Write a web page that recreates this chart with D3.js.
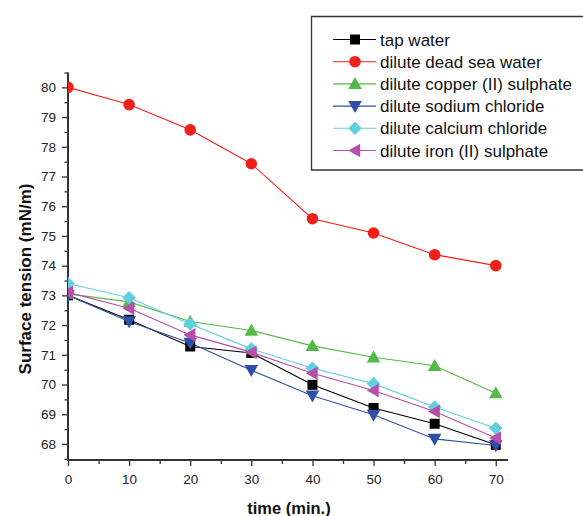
<!DOCTYPE html>
<html>
<head>
<meta charset="utf-8">
<script src="https://cdn.jsdelivr.net/npm/d3@7/dist/d3.min.js"></script>
<style>
  html, body { margin: 0; padding: 0; background: #fff; }
  svg { display: block; font-family: "Liberation Sans", Arial, sans-serif; }
</style>
</head>
<body>
<svg id="chart" width="583" height="516"></svg>
<script>
// Surface tension over time for several dilute solutions
const times = [0, 10, 20, 30, 40, 50, 60, 70];
const tapWater        = [73.0, 72.18, 71.28, 71.06, 69.99, 69.21, 68.68, 67.97];
const deadSeaWater    = [80.0, 79.42, 78.57, 77.43, 75.58, 75.10, 74.37, 74.00];
const copperSulphate  = [73.05, 72.78, 72.12, 71.82, 71.30, 70.92, 70.63, 69.71];
const sodiumChloride  = [73.0, 72.12, 71.40, 70.48, 69.62, 68.98, 68.17, 67.95];
const calciumChloride = [73.4, 72.92, 72.04, 71.20, 70.55, 70.03, 69.24, 68.53];
const ironSulphate    = [73.1, 72.57, 71.67, 71.09, 70.38, 69.80, 69.09, 68.20];
const seriesNames = ["tap water", "dilute dead sea water", "dilute copper (II) sulphate",
                     "dilute sodium chloride", "dilute calcium chloride", "dilute iron (II) sulphate"];
const xTicks = [0, 10, 20, 30, 40, 50, 60, 70];
const yTicks = [68, 69, 70, 71, 72, 73, 74, 75, 76, 77, 78, 79, 80];

const seriesValues = [tapWater, deadSeaWater, copperSulphate, sodiumChloride, calciumChloride, ironSulphate];
const colors = ["#000000", "#f2201a", "#55b947", "#3050a8", "#62cfe0", "#b64fa8"];
const shapes = ["square", "circle", "triUp", "triDown", "diamond", "triLeft"];

const svg = d3.select("#chart");
const plotLeft = 68, plotRight = 508, plotTop = 72.5, plotBottom = 460;

const x = d3.scaleLinear().domain([0, 72]).range([plotLeft, plotRight]);
const y = d3.scaleLinear().domain([67.46, 80.5]).range([plotBottom, plotTop]);

svg.append("defs").append("clipPath").attr("id", "plotClip")
  .append("rect").attr("x", plotLeft).attr("y", plotTop - 8)
  .attr("width", plotRight - plotLeft + 8).attr("height", plotBottom - plotTop + 8);

// marker path generator
function markerPath(shape) {
  switch (shape) {
    case "square": return "M-5,-5H5V5H-5Z";
    case "circle": return d3.symbol(d3.symbolCircle, 105)();
    case "triUp": return "M0,-6.8L6.8,5.2L-6.8,5.2Z";
    case "triDown": return "M0,6.8L6.8,-5.2L-6.8,-5.2Z";
    case "diamond": return "M0,-6.8L6.8,0L0,6.8L-6.8,0Z";
    case "triLeft": return "M-6.8,0L5.2,-6.8L5.2,6.8Z";
  }
}

// axes
const axisColor = "#333";
const yAxis = svg.append("g").attr("transform", `translate(${plotLeft},0)`)
  .call(d3.axisLeft(y).tickValues(yTicks).tickSize(6).tickPadding(6).tickFormat(d3.format("d")));
const yMinor = svg.append("g").attr("transform", `translate(${plotLeft},0)`)
  .call(d3.axisLeft(y).tickValues(d3.range(67.5, 80.6, 1)).tickSize(3.5).tickFormat(""));
const xAxis = svg.append("g").attr("transform", `translate(0,${plotBottom})`)
  .call(d3.axisBottom(x).tickValues(xTicks).tickSize(6).tickPadding(8).tickFormat(d3.format("d")));
const xMinor = svg.append("g").attr("transform", `translate(0,${plotBottom})`)
  .call(d3.axisBottom(x).tickValues(d3.range(5, 71, 10)).tickSize(4).tickFormat(""));
[yAxis, yMinor, xAxis, xMinor].forEach(g => {
  g.select(".domain").remove();
  g.selectAll(".tick line").attr("stroke", axisColor).attr("stroke-width", 1.3);
  g.selectAll(".tick text").attr("fill", "#222").style("font-size", "13.5px");
});
svg.append("line").attr("x1", plotLeft).attr("x2", plotLeft).attr("y1", plotTop).attr("y2", plotBottom + 1)
  .attr("stroke", axisColor).attr("stroke-width", 2);
svg.append("line").attr("x1", plotLeft - 1).attr("x2", plotRight).attr("y1", plotBottom).attr("y2", plotBottom)
  .attr("stroke", axisColor).attr("stroke-width", 2);

// axis titles
svg.append("text").attr("x", 289).attr("y", 514).attr("text-anchor", "middle")
  .style("font-size", "16.5px").style("font-weight", "bold").attr("fill", "#111").text("time (min.)");
svg.append("text").attr("transform", `translate(31,279) rotate(-90)`)
  .attr("text-anchor", "middle").style("font-size", "17px").style("font-weight", "bold")
  .attr("fill", "#111").text("Surface tension (mN/m)");

// series
const plot = svg.append("g").attr("clip-path", "url(#plotClip)");
const line = d3.line().x((d, i) => x(times[i])).y(d => y(d));
seriesValues.forEach((vals, s) => {
  plot.append("path").datum(vals).attr("d", line).attr("fill", "none")
    .attr("stroke", colors[s]).attr("stroke-width", 1.1);
});
seriesValues.forEach((vals, s) => {
  plot.selectAll(null).data(vals).enter().append("path")
    .attr("d", markerPath(shapes[s]))
    .attr("transform", (d, i) => `translate(${x(times[i])},${y(d)})`)
    .attr("fill", colors[s]);
});

// legend
const lg = svg.append("g");
lg.append("path").attr("d", "M583,16.5H311.5V170H583").attr("fill", "#fff")
  .attr("stroke", "#333").attr("stroke-width", 1.3);
seriesNames.forEach((name, s) => {
  const cy = 39.5 + s * 22.2;
  lg.append("line").attr("x1", 333).attr("x2", 376).attr("y1", cy).attr("y2", cy)
    .attr("stroke", colors[s]).attr("stroke-width", 1.1);
  lg.append("path").attr("d", markerPath(shapes[s])).attr("transform", `translate(355,${cy})`)
    .attr("fill", colors[s]);
  lg.append("text").attr("x", 380).attr("y", cy + 6).style("font-size", "17px")
    .attr("fill", "#111").text(name);
});
</script>
</body>
</html>
